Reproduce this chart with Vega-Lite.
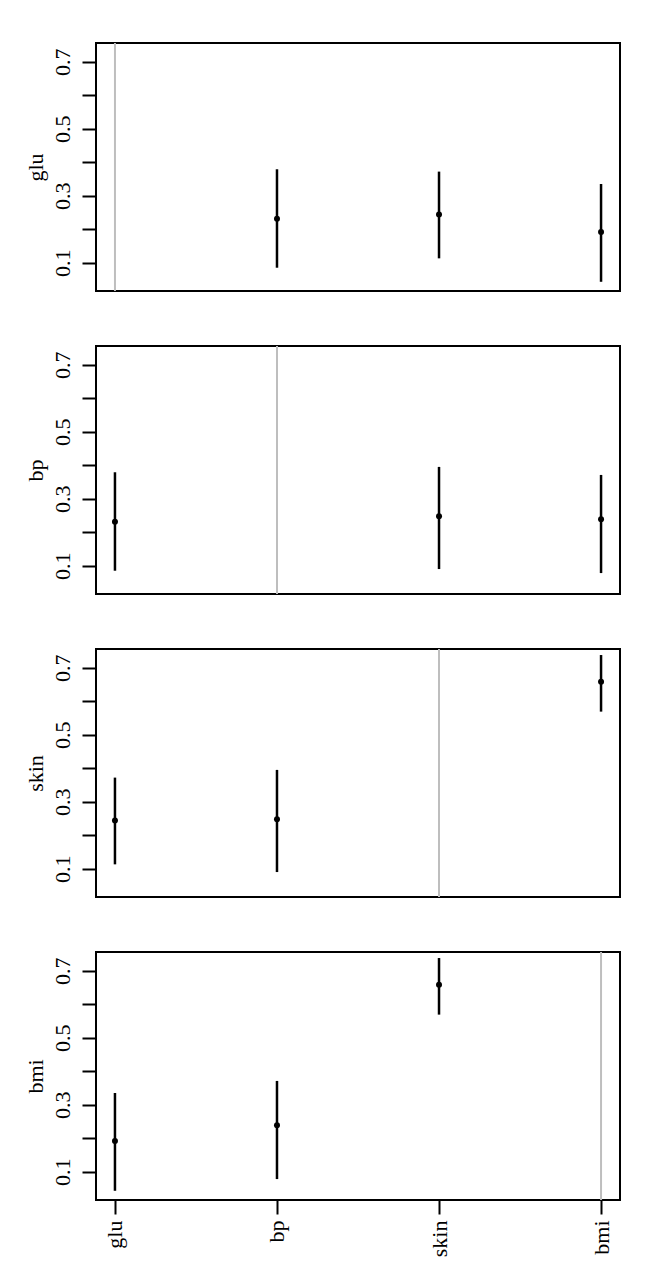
{
  "$schema": "https://vega.github.io/schema/vega-lite/v6.json",
  "background": "white",
  "padding": {"left": 23, "top": 41, "right": 0, "bottom": 0},
  "spacing": 51,
  "datasets": {
    "pairs": [
      {"row": "glu", "col": "bp", "est": 0.231, "lo": 0.085, "hi": 0.379},
      {"row": "glu", "col": "skin", "est": 0.244, "lo": 0.113, "hi": 0.372},
      {"row": "glu", "col": "bmi", "est": 0.192, "lo": 0.043, "hi": 0.335},
      {"row": "bp", "col": "glu", "est": 0.231, "lo": 0.085, "hi": 0.379},
      {"row": "bp", "col": "skin", "est": 0.248, "lo": 0.090, "hi": 0.395},
      {"row": "bp", "col": "bmi", "est": 0.239, "lo": 0.078, "hi": 0.371},
      {"row": "skin", "col": "glu", "est": 0.244, "lo": 0.113, "hi": 0.372},
      {"row": "skin", "col": "bp", "est": 0.248, "lo": 0.090, "hi": 0.395},
      {"row": "skin", "col": "bmi", "est": 0.658, "lo": 0.569, "hi": 0.738},
      {"row": "bmi", "col": "glu", "est": 0.192, "lo": 0.043, "hi": 0.335},
      {"row": "bmi", "col": "bp", "est": 0.239, "lo": 0.078, "hi": 0.371},
      {"row": "bmi", "col": "skin", "est": 0.658, "lo": 0.569, "hi": 0.738}
    ],
    "diag": [
      {"row": "glu", "col": "glu"},
      {"row": "bp", "col": "bp"},
      {"row": "skin", "col": "skin"},
      {"row": "bmi", "col": "bmi"}
    ]
  },
  "config": {
    "font": "Times New Roman, Liberation Serif, serif",
    "view": {"stroke": "black", "strokeWidth": 2},
    "axis": {
      "domain": false,
      "grid": false,
      "ticks": true,
      "tickColor": "black",
      "tickWidth": 2,
      "tickSize": 14,
      "labelFont": "Times New Roman, Liberation Serif, serif",
      "labelFontSize": 22,
      "labelColor": "black",
      "labelPadding": 8,
      "titleFont": "Times New Roman, Liberation Serif, serif",
      "titleFontSize": 22,
      "titleFontWeight": "normal",
      "titleColor": "black",
      "titlePadding": 4
    }
  },
  "vconcat": [
    {
      "width": 524, "height": 248,
      "layer": [
        {"data": {"name": "diag"}, "transform": [{"filter": "datum.row == 'glu'"}], "mark": {"type": "rule", "color": "#BEBEBE", "strokeWidth": 2},
         "encoding": {"x": {"field": "col", "type": "nominal", "scale": {"type": "point", "domain": ["glu", "bp", "skin", "bmi"], "padding": 0.117}, "axis": null}}},
        {"data": {"name": "pairs"}, "transform": [{"filter": "datum.row == 'glu'"}], "mark": {"type": "rule", "color": "black", "strokeWidth": 2.5},
         "encoding": {"x": {"field": "col", "type": "nominal", "scale": {"type": "point", "domain": ["glu", "bp", "skin", "bmi"], "padding": 0.117}, "axis": null},
                      "y": {"field": "lo", "type": "quantitative", "scale": {"domain": [0.0155, 0.756], "nice": false, "zero": false},
                            "axis": {"title": "glu", "values": [0.1, 0.2, 0.3, 0.4, 0.5, 0.6, 0.7], "labelExpr": "(round(datum.value*10) % 2 == 1) ? format(datum.value, '.1f') : ''", "labelAngle": -90, "labelAlign": "center", "labelBaseline": "bottom"}},
                      "y2": {"field": "hi"}}},
        {"data": {"name": "pairs"}, "transform": [{"filter": "datum.row == 'glu'"}], "mark": {"type": "point", "filled": true, "color": "black", "size": 36, "opacity": 1},
         "encoding": {"x": {"field": "col", "type": "nominal", "scale": {"type": "point", "domain": ["glu", "bp", "skin", "bmi"], "padding": 0.117}, "axis": null},
                      "y": {"field": "est", "type": "quantitative"}}}
      ]
    },
    {
      "width": 524, "height": 248,
      "layer": [
        {"data": {"name": "diag"}, "transform": [{"filter": "datum.row == 'bp'"}], "mark": {"type": "rule", "color": "#BEBEBE", "strokeWidth": 2},
         "encoding": {"x": {"field": "col", "type": "nominal", "scale": {"type": "point", "domain": ["glu", "bp", "skin", "bmi"], "padding": 0.117}, "axis": null}}},
        {"data": {"name": "pairs"}, "transform": [{"filter": "datum.row == 'bp'"}], "mark": {"type": "rule", "color": "black", "strokeWidth": 2.5},
         "encoding": {"x": {"field": "col", "type": "nominal", "scale": {"type": "point", "domain": ["glu", "bp", "skin", "bmi"], "padding": 0.117}, "axis": null},
                      "y": {"field": "lo", "type": "quantitative", "scale": {"domain": [0.0155, 0.756], "nice": false, "zero": false},
                            "axis": {"title": "bp", "values": [0.1, 0.2, 0.3, 0.4, 0.5, 0.6, 0.7], "labelExpr": "(round(datum.value*10) % 2 == 1) ? format(datum.value, '.1f') : ''", "labelAngle": -90, "labelAlign": "center", "labelBaseline": "bottom"}},
                      "y2": {"field": "hi"}}},
        {"data": {"name": "pairs"}, "transform": [{"filter": "datum.row == 'bp'"}], "mark": {"type": "point", "filled": true, "color": "black", "size": 36, "opacity": 1},
         "encoding": {"x": {"field": "col", "type": "nominal", "scale": {"type": "point", "domain": ["glu", "bp", "skin", "bmi"], "padding": 0.117}, "axis": null},
                      "y": {"field": "est", "type": "quantitative"}}}
      ]
    },
    {
      "width": 524, "height": 248,
      "layer": [
        {"data": {"name": "diag"}, "transform": [{"filter": "datum.row == 'skin'"}], "mark": {"type": "rule", "color": "#BEBEBE", "strokeWidth": 2},
         "encoding": {"x": {"field": "col", "type": "nominal", "scale": {"type": "point", "domain": ["glu", "bp", "skin", "bmi"], "padding": 0.117}, "axis": null}}},
        {"data": {"name": "pairs"}, "transform": [{"filter": "datum.row == 'skin'"}], "mark": {"type": "rule", "color": "black", "strokeWidth": 2.5},
         "encoding": {"x": {"field": "col", "type": "nominal", "scale": {"type": "point", "domain": ["glu", "bp", "skin", "bmi"], "padding": 0.117}, "axis": null},
                      "y": {"field": "lo", "type": "quantitative", "scale": {"domain": [0.0155, 0.756], "nice": false, "zero": false},
                            "axis": {"title": "skin", "values": [0.1, 0.2, 0.3, 0.4, 0.5, 0.6, 0.7], "labelExpr": "(round(datum.value*10) % 2 == 1) ? format(datum.value, '.1f') : ''", "labelAngle": -90, "labelAlign": "center", "labelBaseline": "bottom"}},
                      "y2": {"field": "hi"}}},
        {"data": {"name": "pairs"}, "transform": [{"filter": "datum.row == 'skin'"}], "mark": {"type": "point", "filled": true, "color": "black", "size": 36, "opacity": 1},
         "encoding": {"x": {"field": "col", "type": "nominal", "scale": {"type": "point", "domain": ["glu", "bp", "skin", "bmi"], "padding": 0.117}, "axis": null},
                      "y": {"field": "est", "type": "quantitative"}}}
      ]
    },
    {
      "width": 524, "height": 248,
      "layer": [
        {"data": {"name": "diag"}, "transform": [{"filter": "datum.row == 'bmi'"}], "mark": {"type": "rule", "color": "#BEBEBE", "strokeWidth": 2},
         "encoding": {"x": {"field": "col", "type": "nominal", "scale": {"type": "point", "domain": ["glu", "bp", "skin", "bmi"], "padding": 0.117},
                            "axis": {"title": null, "labelAngle": -90, "labelAlign": "right", "labelBaseline": "middle", "labelPadding": 6}}}},
        {"data": {"name": "pairs"}, "transform": [{"filter": "datum.row == 'bmi'"}], "mark": {"type": "rule", "color": "black", "strokeWidth": 2.5},
         "encoding": {"x": {"field": "col", "type": "nominal", "scale": {"type": "point", "domain": ["glu", "bp", "skin", "bmi"], "padding": 0.117}},
                      "y": {"field": "lo", "type": "quantitative", "scale": {"domain": [0.0155, 0.756], "nice": false, "zero": false},
                            "axis": {"title": "bmi", "values": [0.1, 0.2, 0.3, 0.4, 0.5, 0.6, 0.7], "labelExpr": "(round(datum.value*10) % 2 == 1) ? format(datum.value, '.1f') : ''", "labelAngle": -90, "labelAlign": "center", "labelBaseline": "bottom"}},
                      "y2": {"field": "hi"}}},
        {"data": {"name": "pairs"}, "transform": [{"filter": "datum.row == 'bmi'"}], "mark": {"type": "point", "filled": true, "color": "black", "size": 36, "opacity": 1},
         "encoding": {"x": {"field": "col", "type": "nominal", "scale": {"type": "point", "domain": ["glu", "bp", "skin", "bmi"], "padding": 0.117}},
                      "y": {"field": "est", "type": "quantitative"}}}
      ]
    }
  ]
}
